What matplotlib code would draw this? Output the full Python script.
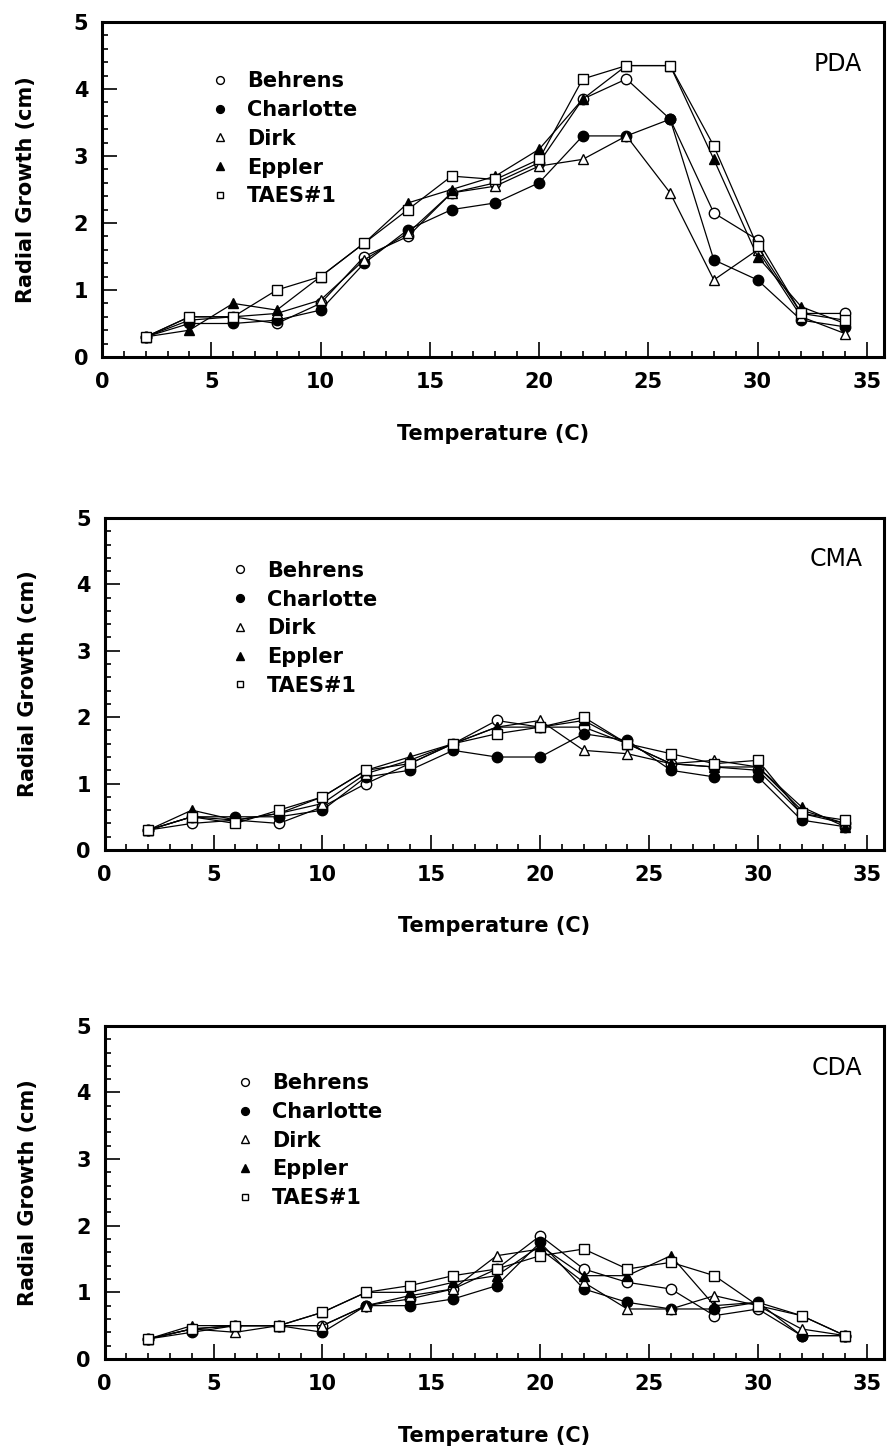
import matplotlib
matplotlib.use("Agg")
import matplotlib.pyplot as plt
from matplotlib.lines import Line2D
from matplotlib.ticker import MultipleLocator

temps = [2, 4, 6, 8, 10, 12, 14, 16, 18, 20, 22, 24, 26, 28, 30, 32, 34]
isolates = ["Behrens", "Charlotte", "Dirk", "Eppler", "TAES#1"]

# PDA
pda_behrens = [0.3, 0.55, 0.6, 0.5, 0.8, 1.5, 1.8, 2.45, 2.6, 2.9, 3.85, 4.15, 3.55, 2.15, 1.75, 0.65, 0.65]
pda_charlotte = [0.3, 0.5, 0.5, 0.55, 0.7, 1.4, 1.9, 2.2, 2.3, 2.6, 3.3, 3.3, 3.55, 1.45, 1.15, 0.55, 0.45]
pda_dirk = [0.3, 0.6, 0.6, 0.65, 0.85, 1.45, 1.85, 2.45, 2.55, 2.85, 2.95, 3.3, 2.45, 1.15, 1.6, 0.6, 0.35]
pda_eppler = [0.3, 0.4, 0.8, 0.7, 1.2, 1.7, 2.3, 2.5, 2.7, 3.1, 3.85, 4.35, 4.35, 2.95, 1.5, 0.75, 0.5]
pda_taes = [0.3, 0.6, 0.6, 1.0, 1.2, 1.7, 2.2, 2.7, 2.65, 2.95, 4.15, 4.35, 4.35, 3.15, 1.65, 0.65, 0.55]

# CMA
cma_behrens = [0.3, 0.4, 0.45, 0.4, 0.65, 1.0, 1.3, 1.6, 1.95, 1.85, 1.85, 1.6, 1.3, 1.25, 1.2, 0.55, 0.4]
cma_charlotte = [0.3, 0.5, 0.5, 0.5, 0.6, 1.1, 1.2, 1.5, 1.4, 1.4, 1.75, 1.65, 1.2, 1.1, 1.1, 0.45, 0.35]
cma_dirk = [0.3, 0.5, 0.45, 0.55, 0.7, 1.15, 1.35, 1.6, 1.85, 1.95, 1.5, 1.45, 1.3, 1.35, 1.25, 0.6, 0.4]
cma_eppler = [0.3, 0.6, 0.45, 0.55, 0.8, 1.2, 1.4, 1.6, 1.85, 1.85, 1.95, 1.6, 1.3, 1.25, 1.25, 0.65, 0.35]
cma_taes = [0.3, 0.5, 0.4, 0.6, 0.8, 1.2, 1.3, 1.6, 1.75, 1.85, 2.0, 1.6, 1.45, 1.3, 1.35, 0.55, 0.45]

# CDA
cda_behrens = [0.3, 0.45, 0.5, 0.5, 0.5, 0.8, 0.9, 1.05, 1.35, 1.85, 1.35, 1.15, 1.05, 0.65, 0.75, 0.35, 0.35]
cda_charlotte = [0.3, 0.4, 0.5, 0.5, 0.4, 0.8, 0.8, 0.9, 1.1, 1.75, 1.05, 0.85, 0.75, 0.75, 0.85, 0.35, 0.35]
cda_dirk = [0.3, 0.45, 0.4, 0.5, 0.5, 0.8, 0.95, 1.05, 1.55, 1.65, 1.15, 0.75, 0.75, 0.95, 0.8, 0.45, 0.35]
cda_eppler = [0.3, 0.5, 0.5, 0.5, 0.7, 1.0, 1.0, 1.15, 1.25, 1.7, 1.25, 1.25, 1.55, 0.8, 0.85, 0.65, 0.35]
cda_taes = [0.3, 0.45, 0.5, 0.5, 0.7, 1.0, 1.1, 1.25, 1.35, 1.55, 1.65, 1.35, 1.45, 1.25, 0.8, 0.65, 0.35]

media = ["PDA", "CMA", "CDA"]
panel_data = [
    [pda_behrens, pda_charlotte, pda_dirk, pda_eppler, pda_taes],
    [cma_behrens, cma_charlotte, cma_dirk, cma_eppler, cma_taes],
    [cda_behrens, cda_charlotte, cda_dirk, cda_eppler, cda_taes],
]

markers = ["o", "o", "^", "^", "s"]
faces = ["white", "black", "white", "black", "white"]
msizes = [7.5, 7.5, 7, 7, 6.5]

# axes rectangles [left, bottom, width, height] in figure fraction
rects = [
    [0.114, 0.7538, 0.874, 0.231],
    [0.117, 0.4138, 0.871, 0.229],
    [0.117, 0.0628, 0.871, 0.2297],
]
legend_pos = [(0.143, 0.853), (0.165, 0.871), (0.172, 0.858)]

plt.rcParams['font.family'] = ['DejaVu Sans']

fig = plt.figure(figsize=(8.95, 14.5), dpi=100)

for i in range(3):
    ax = fig.add_axes(rects[i])
    for j in range(5):
        ax.plot(temps, panel_data[i][j], color="black", lw=0.9,
                marker=markers[j], ms=msizes[j], mfc=faces[j], mec="black",
                mew=1.0, label=isolates[j])

    ax.set_xlim(0, 35.8)
    ax.set_ylim(0, 5)
    ax.xaxis.set_major_locator(MultipleLocator(5))
    ax.xaxis.set_minor_locator(MultipleLocator(1))
    ax.yaxis.set_major_locator(MultipleLocator(1))
    ax.yaxis.set_minor_locator(MultipleLocator(0.2))
    ax.tick_params(which="both", direction="in", top=False, right=False, width=1.2)
    ax.tick_params(which="major", length=11)
    ax.tick_params(which="minor", length=4.5)
    ax.tick_params(axis="x", pad=11, labelsize=15)
    ax.tick_params(axis="y", pad=10, labelsize=15)
    for lab in ax.get_xticklabels() + ax.get_yticklabels():
        lab.set_fontweight("bold")
    for sp in ax.spines.values():
        sp.set_linewidth(2.2)

    ax.set_xlabel("Temperature (C)", fontsize=15, fontweight="bold")
    ax.set_ylabel("Radial Growth (cm)", fontsize=15, fontweight="bold")
    ax.xaxis.set_label_coords(0.5, -0.2)
    ax.yaxis.set_label_coords(-0.085, 0.5)

    ax.text(0.972, 0.875, media[i], transform=ax.transAxes, ha="right",
            va="center", fontsize=17)

    handles = [Line2D([], [], ls="none", marker=markers[j], ms=msizes[j] * 0.75,
                      mfc=faces[j], mec="black", mew=1.0) for j in range(5)]
    ax.legend(handles, isolates, loc="upper left", bbox_to_anchor=legend_pos[i],
              frameon=False, borderpad=0, borderaxespad=0, handlelength=0.6,
              handletextpad=1.0, labelspacing=0.42,
              prop={"size": 15, "weight": "bold"})

fig.savefig("out.png", dpi=100)
